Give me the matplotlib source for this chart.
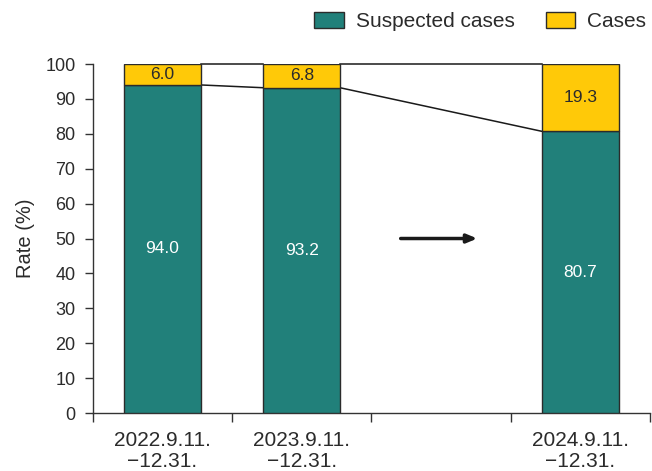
import matplotlib
matplotlib.use("Agg")
import matplotlib.pyplot as plt
from matplotlib.patches import Patch

plt.rcParams['font.family'] = ['Liberation Sans', 'DejaVu Sans']

periods = ["2022.9.11.\n\u221212.31.", "2023.9.11.\n\u221212.31.", "2024.9.11.\n\u221212.31."]
positions = [0, 1, 3]
suspected = [94.0, 93.2, 80.7]
cases = [6.0, 6.8, 19.3]
yticks = [0, 10, 20, 30, 40, 50, 60, 70, 80, 90, 100]

teal = "#21807a"
gold = "#ffc908"
edge = "#2b2b2b"
textc = "#2b2b2b"
bar_w = 0.55

fig = plt.figure(figsize=(6.52, 4.71), dpi=100)
ax = fig.add_axes([0.1423, 0.1231, 0.8547, 0.741])

ax.bar(positions, suspected, width=bar_w, color=teal, edgecolor=edge, linewidth=1.0, zorder=3)
ax.bar(positions, cases, width=bar_w, bottom=suspected, color=gold, edgecolor=edge, linewidth=1.0, zorder=3)

for x, s, c in zip(positions, suspected, cases):
    ax.text(x, s / 2, f"{s:.1f}", ha="center", va="center", color="white", fontsize=12.5, zorder=4)
    ax.text(x, s + c / 2, f"{c:.1f}", ha="center", va="center", color=textc, fontsize=12.5, zorder=4)

# connector lines between neighbouring bars: top of suspected segment and top of stack
for i in range(len(positions) - 1):
    x0 = positions[i] + bar_w / 2
    x1 = positions[i + 1] - bar_w / 2
    ax.plot([x0, x1], [suspected[i], suspected[i + 1]], color="#1a1a1a", lw=1.1, zorder=2)
    top0 = suspected[i] + cases[i]
    top1 = suspected[i + 1] + cases[i + 1]
    ax.plot([x0, x1], [top0, top1], color="#1a1a1a", lw=1.1, zorder=2, clip_on=False)

# trend arrow in the gap
ax.annotate("", xy=(2.26, 50), xytext=(1.71, 50),
            arrowprops=dict(arrowstyle="-|>,head_length=0.6,head_width=0.25", color="#1a1a1a", lw=2.5,
                            shrinkA=0, shrinkB=0))

ax.set_xlim(-0.5, 3.5)
ax.set_ylim(0, 100)
ax.set_yticks(yticks)
ax.set_xticks([-0.5, 0.5, 1.5, 2.5, 3.5])
ax.set_xticklabels([])
ax.set_xticks(positions, minor=True)
ax.set_xticklabels(periods, minor=True, linespacing=1.1)
ax.tick_params(axis="x", which="minor", length=0, pad=13, labelsize=15, labelcolor=textc)
ax.tick_params(axis="x", which="major", length=6.5, width=1, color="#333333", direction="out")
ax.tick_params(axis="y", length=5.5, width=1, color="#333333", labelsize=13, labelcolor=textc, pad=7)

for side in ["top", "right"]:
    ax.spines[side].set_visible(False)
for side in ["left", "bottom"]:
    ax.spines[side].set_color("#333333")
    ax.spines[side].set_linewidth(1.0)

ax.set_ylabel("Rate (%)", fontsize=14.5, color=textc)
ax.yaxis.set_label_coords(-0.104, 0.5)

handles = [Patch(facecolor=teal, edgecolor=edge, label="Suspected cases"),
           Patch(facecolor=gold, edgecolor=edge, label="Cases")]
fig.legend(handles=handles, loc="upper right", bbox_to_anchor=(646 / 652, 1 - 12 / 471), ncol=2,
           frameon=False, fontsize=15, handlelength=1.4, handleheight=0.77, columnspacing=1.5,
           handletextpad=0.58, borderpad=0, borderaxespad=0, labelcolor=textc)

fig.savefig("out.png", dpi=100)
